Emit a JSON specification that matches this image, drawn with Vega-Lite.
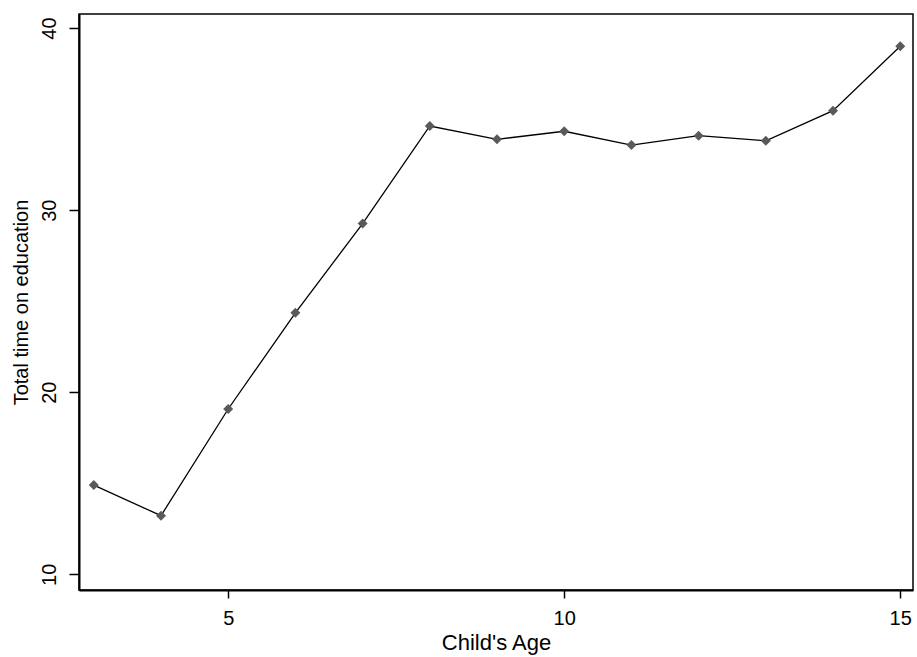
{
  "$schema": "https://vega.github.io/schema/vega-lite/v6.json",
  "width": 834,
  "height": 576,
  "autosize": {"type": "none"},
  "padding": {"left": 79, "top": 14, "right": 4, "bottom": 67},
  "background": "white",
  "config": {
    "view": {"stroke": "black", "strokeWidth": 1.5},
    "font": "Liberation Sans"
  },
  "data": {
    "values": [
      {"age": 3, "time": 14.90},
      {"age": 4, "time": 13.22},
      {"age": 5, "time": 19.08},
      {"age": 6, "time": 24.36},
      {"age": 7, "time": 29.26},
      {"age": 8, "time": 34.62},
      {"age": 9, "time": 33.89},
      {"age": 10, "time": 34.33},
      {"age": 11, "time": 33.57},
      {"age": 12, "time": 34.09},
      {"age": 13, "time": 33.81},
      {"age": 14, "time": 35.46},
      {"age": 15, "time": 39.0}
    ]
  },
  "encoding": {
    "x": {
      "field": "age", "type": "quantitative",
      "scale": {"domain": [2.78, 15.19], "nice": false, "zero": false},
      "axis": {
        "values": [5, 10, 15], "grid": false, "title": "Child's Age",
        "domainColor": "black", "domainWidth": 2, "tickColor": "black", "tickWidth": 1.5,
        "tickSize": 8, "labelPadding": 10, "labelFontSize": 20, "labelColor": "black",
        "titleFontSize": 22, "titleFontWeight": "normal", "titleColor": "black", "titlePadding": 4
      }
    },
    "y": {
      "field": "time", "type": "quantitative",
      "scale": {"domain": [9.14, 40.77], "nice": false, "zero": false},
      "axis": {
        "values": [10, 20, 30, 40], "grid": false, "title": "Total time on education",
        "domainColor": "black", "domainWidth": 2, "tickColor": "black", "tickWidth": 1.5,
        "tickSize": 10, "labelPadding": 10, "labelFontSize": 20, "labelColor": "black",
        "labelAngle": 270, "labelAlign": "center", "labelBaseline": "bottom",
        "titleFontSize": 20, "titleFontWeight": "normal", "titleColor": "black", "titlePadding": 8
      }
    }
  },
  "layer": [
    {"mark": {"type": "line", "color": "black", "strokeWidth": 1.3}},
    {"mark": {"type": "point", "shape": "diamond", "filled": true, "color": "#5a5a5a", "opacity": 1, "size": 100}}
  ]
}
